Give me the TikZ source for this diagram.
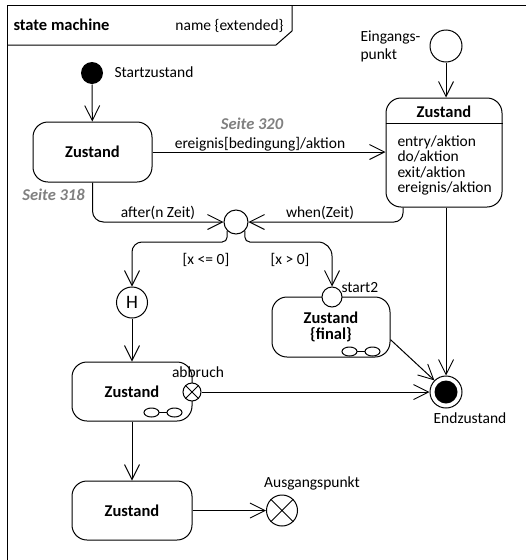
\documentclass[tikz,border=0pt]{standalone}
\usepackage{fontspec}
\setmainfont{Carlito}
\usetikzlibrary{arrows.meta,calc}
\begin{document}
\begin{tikzpicture}[x=1pt,y=-1pt,line width=1pt,
  font=\fontsize{15.5}{18}\selectfont,
  arr/.style={-{Straight Barb[length=15pt,width=15pt,line width=0.9pt]}},
  statebox/.style={draw,rounded corners=15pt,inner sep=0pt,font=\fontsize{16.5}{17}\selectfont\bfseries},
  pseudo/.style={circle,draw,fill=white,inner sep=0pt},
  lbl/.style={inner sep=0pt},
  boldlbl/.style={inner sep=0pt,font=\fontsize{16.5}{17}\selectfont\bfseries},
  seite/.style={inner sep=0pt,text=black!50,font=\fontsize{16.5}{17}\selectfont\bfseries\itshape},
  decomp/.pic={
    \draw (-11.5,0) ellipse[x radius=7.5,y radius=4.5];
    \draw (11.5,0) ellipse[x radius=7.5,y radius=4.5];
    \draw (-4,0) -- (4,0);}]
\useasboundingbox (0,0) rectangle (526,560);
% frame
\draw (7,560) -- (7,5) -- (526,5);
\draw (7,45) -- (276,45) -- (292,31) -- (292,5);
\node[boldlbl,anchor=base west] (smtitle) at (13,30) {state machine};
\node[lbl,anchor=base east] (smname) at (284,30) {name \{extended\}};

% start
\node[circle,fill,minimum size=22pt,inner sep=0pt] (start) at (92,73) {};
\node[lbl,anchor=base west] (startlbl) at (114,77) {Startzustand};

% Zustand 1
\node[statebox,minimum width=119pt,minimum height=60pt] (z1) at (92.5,152) {Zustand};
\draw[arr] (start) -- (z1);

% entry point
\node[pseudo,minimum size=32pt] (ein) at (446,46) {};
\node[lbl,anchor=base west] (einlbl1) at (360,41) {Eingangs-};
\node[lbl,anchor=base west] (einlbl2) at (360,59) {punkt};

% Zustand 2
\node[draw,rounded corners=15pt,minimum width=116pt,minimum height=109pt,inner sep=0pt] (z2) at (444,152.5) {};
\draw ($(z2.north west)+(0,26)$) -- ($(z2.north east)+(0,26)$);
\node[boldlbl] (z2name) at (444,112) {Zustand};
\node[lbl,anchor=base west] (z2e1) at (397,146) {entry/aktion};
\node[lbl,anchor=base west] (z2e2) at (397,161.5) {do/aktion};
\node[lbl,anchor=base west] (z2e3) at (397,177) {exit/aktion};
\node[lbl,anchor=base west] (z2e4) at (397,192.5) {ereignis/aktion};
\draw[arr] (ein) -- (ein |- z2.north);

% z1 -> z2
\draw[arr] (z1.east) -- (z1.east -| z2.west);
\node[lbl,anchor=base] (evlbl) at (260,148) {ereignis[bedingung]/aktion};
\node[seite,anchor=base] (s320) at (252,129) {Seite 320};
\node[seite,anchor=base] (s318) at (53.5,200) {Seite 318};

% junction
\node[pseudo,minimum size=24pt] (j) at (236,222) {};
\draw[arr,rounded corners=11pt] (z1.south) |- (j.west);
\node[lbl,anchor=base] (afterlbl) at (158,217) {after(n Zeit)};
\draw[arr,rounded corners=9pt] ($(z2.south)+(-41,0)$) |- (j.east);
\node[lbl,anchor=base] (whenlbl) at (320,217) {when(Zeit)};

\coordinate (by) at (0,242);

% H
\node[pseudo,minimum size=31pt,font=\fontsize{19}{19}\selectfont] (H) at (132,302.5) {H};
\draw[arr] (j.225) [rounded corners=5pt] -- (j.225 |- by) [rounded corners=10pt] -- (H.north |- by) -- (H.north);
\node[lbl,anchor=base] (guard1) at (206,264) {[x <= 0]};

% final state box with start2
\node[draw,rounded corners=15pt,minimum width=118pt,minimum height=60pt,inner sep=0pt,align=center,font=\fontsize{16.5}{16}\selectfont\bfseries] (fin) at (331,327) {Zustand\\\{final\}};
\pic at ($(fin.south east)+(-29.5,-6)$) {decomp};
\node[pseudo,minimum size=20pt] (s2) at (332,297) {};
\node[lbl,anchor=base west] (s2lbl) at (341,292) {start2};
\draw[arr] (j.315) [rounded corners=5pt] -- (j.315 |- by) [rounded corners=14pt] -- (s2.north |- by) -- (s2.north);
\node[lbl,anchor=base] (guard2) at (290,264) {[x > 0]};

% Zustand 3
\node[statebox,minimum width=120pt,minimum height=59pt] (z3) at (132,391.5) {Zustand};
\pic at ($(z3.south east)+(-29.5,-9)$) {decomp};
\draw[arr] (H) -- (z3);
\node[pseudo,minimum size=18pt] (ab) at (192,392) {};
\draw (ab.45) -- (ab.225) (ab.135) -- (ab.315);
\node[lbl,anchor=base] (ablbl) at (198,377) {abbruch};

% end state
\node[pseudo,minimum size=32pt] (end) at (446,392) {};
\fill (end.center) circle[radius=11.5];
\node[lbl,anchor=base] (endlbl) at (470,423) {Endzustand};
\draw[arr] (ab) -- (end);
\draw[arr] (z2.south -| end) -- (end);
\draw[arr] (fin.-12) -- (end.135);

% Zustand 4 and exit point
\node[statebox,minimum width=120pt,minimum height=59pt] (z4) at (132,510.5) {Zustand};
\draw[arr] (z3) -- (z4);
\node[pseudo,minimum size=31pt] (exitp) at (282,510.5) {};
\draw (exitp.45) -- (exitp.225) (exitp.135) -- (exitp.315);
\node[lbl,anchor=base] (exitlbl) at (312,487) {Ausgangspunkt};
\draw[arr] (z4) -- (exitp);
\end{tikzpicture}
\end{document}
